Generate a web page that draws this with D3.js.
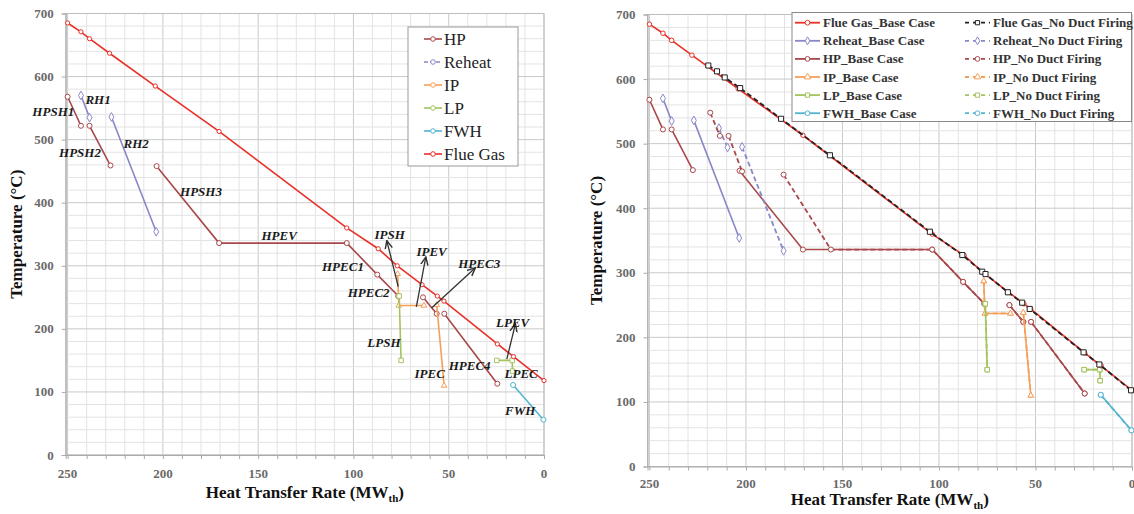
<!DOCTYPE html>
<html><head><meta charset="utf-8">
<script src="https://cdn.jsdelivr.net/npm/d3@7"></script>
<style>
html,body{margin:0;padding:0;background:#fff;}
svg{display:block;font-family:"Liberation Serif","DejaVu Serif",serif;}
</style></head>
<body><svg id="c" width="1134" height="514"></svg>
<script>
// ---------- DATA ----------
const xTicks = [250, 200, 150, 100, 50, 0];
const yTicks = [0, 100, 200, 300, 400, 500, 600, 700];

// Base case (null = break between heat exchanger sections)
const flueBase = [[250,685],[243,671],[238.5,660],[228,637],[204,585],[170.5,513],[103.5,360],[87,327],[77,300],[64,270],[56,252],[52.5,244],[24.5,176],[16,156],[0,118]];
const hpBase = [[250,568],[243,522],null,[238.5,522],[227.5,459],null,[203.3,458],[170.5,336],[103.5,336],[87.5,286],[76.5,252],null,[63.5,250],[56.3,224],null,[52.3,224],[24.5,113]];
const reheatBase = [[243,570],[238.5,535],null,[227,536],[203.5,354]];
const ipBase = [[76.8,287],[76.2,237],[63,237],null,[56.3,238],[52.4,110]];
const lpBase = [[76,252],[75,150],null,[24.8,150],[16.7,150],[16.5,133]];
const fwhBase = [[16.2,111],[0.3,56]];

// No duct firing case
const flueNoDF = [[219.5,621],[215,612],[211,602.5],[203,586],[181.8,538.5],[156.5,482],[104.7,363.6],[87.9,327.5],[77.6,301.7],[75.9,298],[64.3,269.8],[56.9,253.7],[53,244],[25.1,176.8],[16.9,158],[0.5,118]];
const hpNoDF = [[218.5,548],[213.5,512],null,[209,512],[202,457],null,[180.5,452],[156,336],[103.5,336],[87.5,286],[76.5,252],null,[63.5,250],[56.3,224],null,[52.3,224],[24.5,113]];
const reheatNoDF = [[214,524],[209.5,494],null,[202,495],[180.5,334]];
const ipNoDF = [[76.8,287],[76.2,237],[63,237],null,[56.3,238],[52.4,110]];
const lpNoDF = [[76,252],[75,150],null,[24.8,150],[16.7,150],[16.5,133]];
const fwhNoDF = [[16.2,111],[0.3,56]];

// Left chart section labels [text, x, y] in data units
const sectionLabels = [["HPSH1",257.5,544],["RH1",234,563],["HPSH2",243.5,479],["RH2",214,494],["HPSH3",180,418],["HPEV",139,348],["HPEC1",105.5,299],["HPEC2",92,258],["IPSH",81,350],["IPEV",59,323],["HPEC3",34,303],["LPSH",84,178],["IPEC",60,130],["HPEC4",39,142],["LPEV",16.5,210],["LPEC",12,129],["FWH",12.5,70]];
// arrows [fromX, fromY, toX, toY] in data units
const sectionArrows = [[76.5,267,82.5,340],[67,235,62,314],[59,233,36,297],[19.5,152,15,208]];

const leftLegend = ["HP","Reheat","IP","LP","FWH","Flue Gas"];
const rightLegend1 = ["Flue Gas_Base Case","Reheat_Base Case","HP_Base Case","IP_Base Case","LP_Base Case","FWH_Base Case"];
const rightLegend2 = ["Flue Gas_No Duct Firing","Reheat_No Duct Firing","HP_No Duct Firing","IP_No Duct Firing","LP_No Duct Firing","FWH_No Duct Firing"];

// ---------- STYLE ----------
const C = {flue:"#e8312a", hp:"#a8484b", reheat:"#8787c9", ip:"#f5a05a", lp:"#a3c45e", fwh:"#52b4d0", black:"#222"};
const svg = d3.select("#c");
const defs = svg.append("defs");
defs.append("marker").attr("id","arr").attr("viewBox","0 0 10 10").attr("refX",9).attr("refY",5)
  .attr("markerWidth",7).attr("markerHeight",7).attr("orient","auto-start-reverse")
  .append("path").attr("d","M0,1 L9,5 L0,9").attr("fill","none").attr("stroke","#333").attr("stroke-width",1.6);

function symPath(type, size){
  return d3.symbol().type(type).size(size)();
}

function drawChart(cfg){
  const x = d3.scaleLinear().domain([251,0]).range([cfg.x0, cfg.x1]);
  const y = d3.scaleLinear().domain([0,700]).range([cfg.y0, cfg.y1]);
  const g = svg.append("g");
  // grid
  const gx = d3.range(0,251,10), gy = d3.range(0,701,20);
  g.selectAll(".vx").data(gx).join("line").attr("x1",d=>x(d)).attr("x2",d=>x(d)).attr("y1",y(0)).attr("y2",y(700))
    .attr("stroke",d=>d%50===0?"#c9c9c9":"#e3e3e3").attr("stroke-width",1);
  g.selectAll(".hy").data(gy).join("line").attr("y1",d=>y(d)).attr("y2",d=>y(d)).attr("x1",x(251)).attr("x2",x(0))
    .attr("stroke",d=>d%100===0?"#c9c9c9":"#e3e3e3").attr("stroke-width",1);
  g.append("rect").attr("x",x(251)).attr("y",y(700)).attr("width",x(0)-x(251)).attr("height",y(0)-y(700))
    .attr("fill","none").attr("stroke","#bdbdbd");
  // axes
  const xa = g.append("g").attr("transform",`translate(0,${y(0)})`)
    .call(d3.axisBottom(x).tickValues(d3.range(0,251,10)).tickSize(4).tickFormat(""));
  xa.select(".domain").attr("stroke","#aaa");
  xa.selectAll("line").attr("stroke","#aaa");
  g.selectAll(".xl").data(xTicks).join("text").attr("x",d=>x(d)).attr("y",y(0)+cfg.xlOff)
    .attr("text-anchor","middle").attr("font-size",13).attr("font-weight","bold").attr("fill","#6a6a6a").text(d=>d);
  const ya = g.append("g").attr("transform",`translate(${x(251)},0)`)
    .call(d3.axisLeft(y).tickValues(yTicks).tickSize(4).tickFormat(""));
  ya.select(".domain").attr("stroke","#aaa");
  ya.selectAll("line").attr("stroke","#aaa");
  g.selectAll(".yl").data(yTicks).join("text").attr("x",x(251)-12).attr("y",d=>y(d)+4.5)
    .attr("text-anchor","end").attr("font-size",13).attr("font-weight","bold").attr("fill","#6a6a6a").text(d=>d);
  // titles
  const xt = g.append("text").attr("x",(x(251)+x(0))/2+cfg.xtDx).attr("y",cfg.xtY).attr("text-anchor","middle")
    .attr("font-size",17).attr("font-weight","bold").attr("fill","#111");
  xt.append("tspan").text("Heat Transfer Rate (MW");
  xt.append("tspan").attr("font-size",11).attr("dy",4).text("th");
  xt.append("tspan").attr("dy",-4).text(")");
  g.append("text").attr("transform",`translate(${cfg.ytX},${(y(0)+y(700))/2}) rotate(-90)`).attr("text-anchor","middle")
    .attr("font-size",17).attr("font-weight","bold").attr("fill","#111").text("Temperature (°C)");
  return {g,x,y};
}

function series(ctx, data, color, dashed, sym, symSize, fill){
  const line = d3.line().defined(d=>d!==null).x(d=>ctx.x(d[0])).y(d=>ctx.y(d[1]));
  ctx.g.append("path").datum(data).attr("d",line).attr("fill","none").attr("stroke",color)
    .attr("stroke-width",dashed?1.8:1.6).attr("stroke-dasharray",dashed?"5,3":null);
  ctx.g.selectAll(null).data(data.filter(d=>d!==null)).join("path")
    .attr("transform",d=>`translate(${ctx.x(d[0])},${ctx.y(d[1])})`)
    .attr("d",symPath(sym,symSize)).attr("fill",fill||"#fff").attr("stroke",color).attr("stroke-width",1);
}

// ---------- LEFT CHART ----------
const L = drawChart({x0:65.7,x1:544,y0:455,y1:13.5,xlOff:23,xtY:498,xtDx:0,ytX:22});
series(L, reheatBase, C.reheat, false, d3.symbolDiamond, 22);
series(L, hpBase, C.hp, false, d3.symbolCircle, 20);
series(L, ipBase, C.ip, false, d3.symbolTriangle, 14);
series(L, lpBase, C.lp, false, d3.symbolSquare, 20);
series(L, fwhBase, C.fwh, false, d3.symbolCircle, 20);
series(L, flueBase, C.flue, false, d3.symbolCircle, 14);
// arrows & labels
L.g.selectAll(".ar").data(sectionArrows).join("line")
  .attr("x1",d=>L.x(d[0])).attr("y1",d=>L.y(d[1])).attr("x2",d=>L.x(d[2])).attr("y2",d=>L.y(d[3]))
  .attr("stroke","#333").attr("stroke-width",1.3).attr("marker-end","url(#arr)");
L.g.selectAll(".lb").data(sectionLabels).join("text")
  .attr("x",d=>L.x(d[1])).attr("y",d=>L.y(d[2])+4.5).attr("text-anchor","middle")
  .attr("font-size",13).attr("font-weight","bold").attr("font-style","italic").attr("fill","#1a1a1a").text(d=>d[0]);
// left legend
{
  const lg = L.g.append("g");
  lg.append("rect").attr("x",408).attr("y",27).attr("width",110).attr("height",139).attr("fill","#fff").attr("stroke","#999");
  const cols = [C.hp,C.reheat,C.ip,C.lp,C.fwh,C.flue];
  const dsh = [false,true,false,false,false,false];
  leftLegend.forEach((t,i)=>{
    const yy = 39 + i*23;
    lg.append("line").attr("x1",424).attr("x2",442).attr("y1",yy).attr("y2",yy).attr("stroke",cols[i]).attr("stroke-width",1.6)
      .attr("stroke-dasharray",dsh[i]?"4,2":null);
    lg.append("circle").attr("cx",433).attr("cy",yy).attr("r",2.3).attr("fill","#fff").attr("stroke",cols[i]);
    lg.append("text").attr("x",444).attr("y",yy+5.5).attr("font-size",17).attr("fill","#222").text(t);
  });
}

// ---------- RIGHT CHART ----------
const R = drawChart({x0:647.5,x1:1132,y0:466.5,y1:14.5,xlOff:21,xtY:505,xtDx:0,ytX:602});
series(R, reheatBase, C.reheat, false, d3.symbolDiamond, 22);
series(R, hpBase, C.hp, false, d3.symbolCircle, 20);
series(R, reheatNoDF, C.reheat, true, d3.symbolDiamond, 22);
series(R, hpNoDF, C.hp, true, d3.symbolCircle, 20);
series(R, ipBase, C.ip, false, d3.symbolTriangle, 14);
series(R, ipNoDF, C.ip, true, d3.symbolTriangle, 14);
series(R, lpBase, C.lp, false, d3.symbolSquare, 20);
series(R, lpNoDF, C.lp, true, d3.symbolSquare, 20);
series(R, fwhBase, C.fwh, false, d3.symbolCircle, 20);
series(R, fwhNoDF, C.fwh, true, d3.symbolCircle, 20);
series(R, flueBase, C.flue, false, d3.symbolCircle, 16);
series(R, flueNoDF, C.black, true, d3.symbolSquare, 26);
// right legend
{
  const lg = R.g.append("g");
  lg.append("rect").attr("x",792).attr("y",12.5).attr("width",339.5).attr("height",109).attr("fill","#fff").attr("stroke","#888");
  const cols = [C.flue,C.reheat,C.hp,C.ip,C.lp,C.fwh];
  const cols2 = [C.black,C.reheat,C.hp,C.ip,C.lp,C.fwh];
  const syms = [d3.symbolCircle,d3.symbolDiamond,d3.symbolCircle,d3.symbolTriangle,d3.symbolSquare,d3.symbolCircle];
  rightLegend1.forEach((t,i)=>{
    const yy = 22.7 + i*18.1;
    lg.append("line").attr("x1",795).attr("x2",820).attr("y1",yy).attr("y2",yy).attr("stroke",cols[i]).attr("stroke-width",1.8);
    lg.append("path").attr("transform",`translate(807.5,${yy})`).attr("d",symPath(syms[i],18)).attr("fill","#fff").attr("stroke",cols[i]);
    lg.append("text").attr("x",823).attr("y",yy+4.5).attr("font-size",13).attr("font-weight","bold").attr("fill","#333").text(t);
  });
  rightLegend2.forEach((t,i)=>{
    const yy = 22.7 + i*18.1;
    lg.append("line").attr("x1",965).attr("x2",990).attr("y1",yy).attr("y2",yy).attr("stroke",cols2[i]).attr("stroke-width",1.8).attr("stroke-dasharray","4,4");
    lg.append("path").attr("transform",`translate(977.5,${yy})`).attr("d",symPath(i===0?d3.symbolSquare:syms[i],18)).attr("fill","#fff").attr("stroke",cols2[i]);
    lg.append("text").attr("x",993).attr("y",yy+4.5).attr("font-size",13).attr("font-weight","bold").attr("fill","#333").text(t);
  });
}
</script></body></html>
